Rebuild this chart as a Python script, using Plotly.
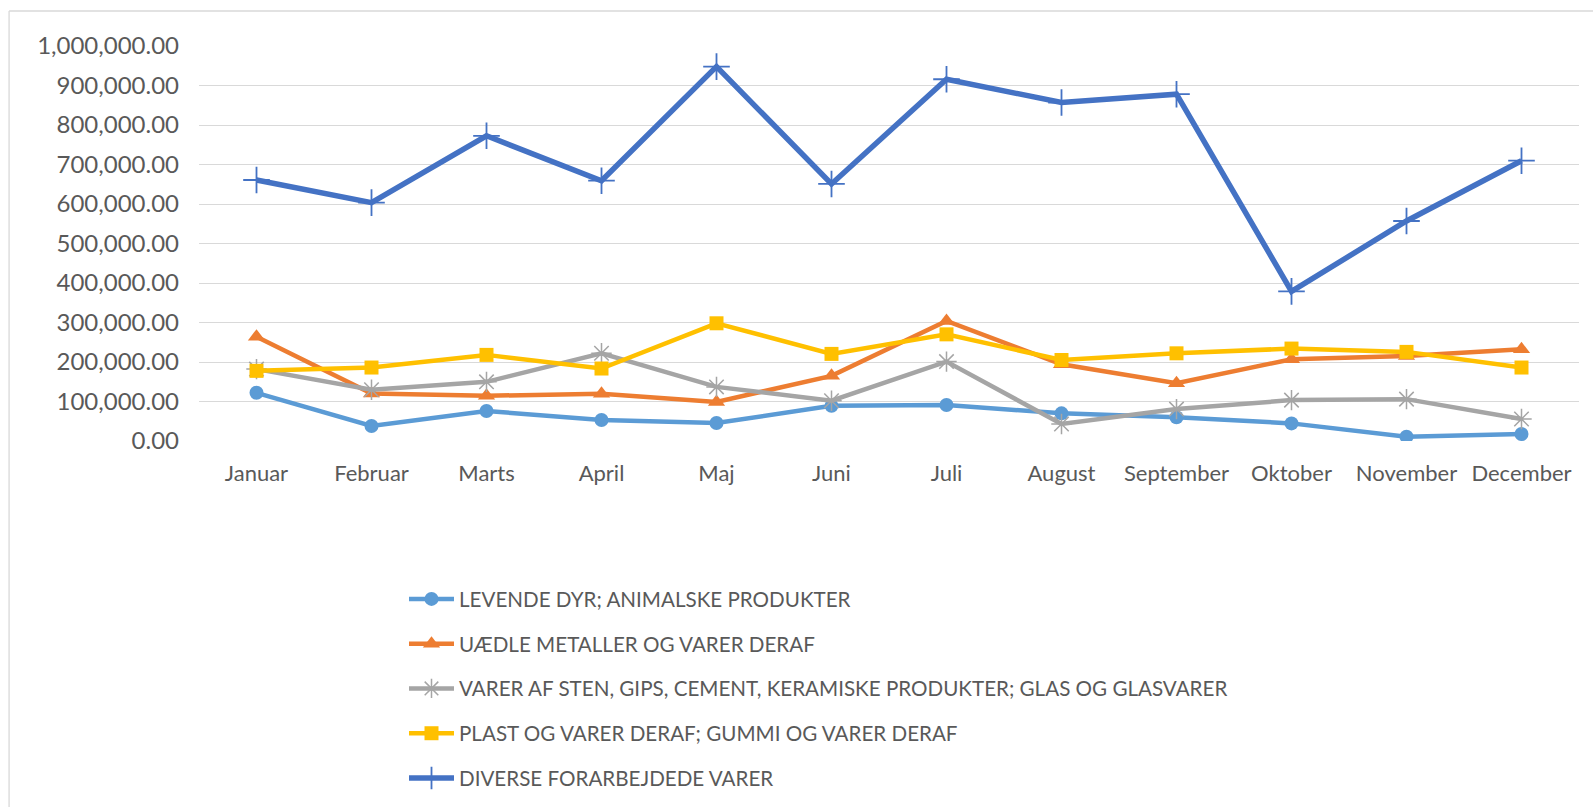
import plotly.graph_objects as go

months = ["Januar", "Februar", "Marts", "April", "Maj", "Juni", "Juli",
          "August", "September", "Oktober", "November", "December"]

levende = [122000, 38000, 76000, 53000, 45500, 89000, 91000, 70000, 60000, 44600, 11000, 17700]
uaedle = [264000, 120000, 114500, 119500, 99000, 165000, 304000, 194400, 146500, 207000, 215500, 232000]
varer_sten = [182000, 129600, 149800, 222000, 137000, 102000, 201000, 43000, 80800, 103500, 106000, 55600]
plast = [177600, 186000, 218000, 183500, 298000, 220500, 270000, 205000, 222000, 234000, 225600, 186000]
diverse = [660800, 603500, 772700, 659000, 947800, 650700, 915800, 857000, 878000, 378800, 557000, 709600]

names = ["LEVENDE DYR; ANIMALSKE PRODUKTER",
         "UÆDLE METALLER OG VARER DERAF",
         "VARER AF STEN, GIPS, CEMENT, KERAMISKE PRODUKTER; GLAS OG GLASVARER",
         "PLAST OG VARER DERAF; GUMMI OG VARER DERAF",
         "DIVERSE FORARBEJDEDE VARER"]

FONT = "Lato"
TXT = "#595959"

fig = go.Figure()

styles = [
    (levende, "#5B9BD5", dict(symbol="circle", size=14, color="#5B9BD5"), 4.5),
    (uaedle, "#ED7D31", dict(symbol="triangle-up", size=15, color="#ED7D31"), 4.5),
    (varer_sten, "#A5A5A5", dict(symbol="asterisk-open", size=17,
                                 line=dict(color="#A5A5A5", width=1.5)), 4.5),
    (plast, "#FFC000", dict(symbol="square", size=14, color="#FFC000"), 4.5),
    (diverse, "#4472C4", dict(symbol="cross-thin-open", size=19,
                              line=dict(color="#4472C4", width=1.8)), 5.5),
]

for i, (vals, col, mk, lw) in enumerate(styles):
    fig.add_trace(go.Scatter(
        x=months, y=vals, name=names[i], mode="lines+markers",
        line=dict(color=col, width=lw), marker=mk,
        legendgroup=f"g{i}",
    ))

# plot area in pixels
L, R, T, B = 198.5, 1579, 46, 441
W, H = 1593, 807

def px_to_paper_x(px):
    return (px - L) / (R - L)

def px_to_paper_y(py):
    return (B - py) / (B - T)

fig.update_layout(
    width=W, height=H,
    margin=dict(l=L, r=W - R, t=T, b=H - B, autoexpand=False),
    paper_bgcolor="white", plot_bgcolor="white",
    font=dict(family=FONT, size=20.6, color=TXT),
    showlegend=True,
    legend=dict(
        orientation="v",
        xref="container", yref="container",
        x=404 / W, y=1 - 579 / H,
        xanchor="left", yanchor="top",
        font=dict(family=FONT, size=20.6, color=TXT),
        tracegroupgap=15,
        itemwidth=45,
        bgcolor="rgba(0,0,0,0)",
    ),
    xaxis=dict(
        showgrid=False, zeroline=False, showline=False,
        ticks="", tickfont=dict(family=FONT, size=22, color=TXT),
        range=[-0.5, 11.5],
        ticklabelstandoff=17,
    ),
    yaxis=dict(
        range=[0, 1000000], dtick=100000,
        tickformat=",.2f",
        showgrid=True, gridcolor="#D9D9D9", gridwidth=1.3,
        zeroline=False, showline=False,
        ticks="", ticklen=0,
        tickfont=dict(family=FONT, size=24, color=TXT),
        ticklabelstandoff=19,
    ),
    shapes=[
        dict(type="line", xref="paper", yref="paper",
             x0=px_to_paper_x(8.5), x1=px_to_paper_x(1600),
             y0=px_to_paper_y(11), y1=px_to_paper_y(11),
             line=dict(color="#D9D9D9", width=1.3), layer="below"),
        dict(type="line", xref="paper", yref="paper",
             x0=px_to_paper_x(8.5), x1=px_to_paper_x(8.5),
             y0=px_to_paper_y(11), y1=px_to_paper_y(815),
             line=dict(color="#D9D9D9", width=1.3), layer="below"),
    ],
)

fig.write_html("out.html", config={"displayModeBar": False},
               post_script="document.body.style.margin='0';document.body.style.overflow='hidden';")
